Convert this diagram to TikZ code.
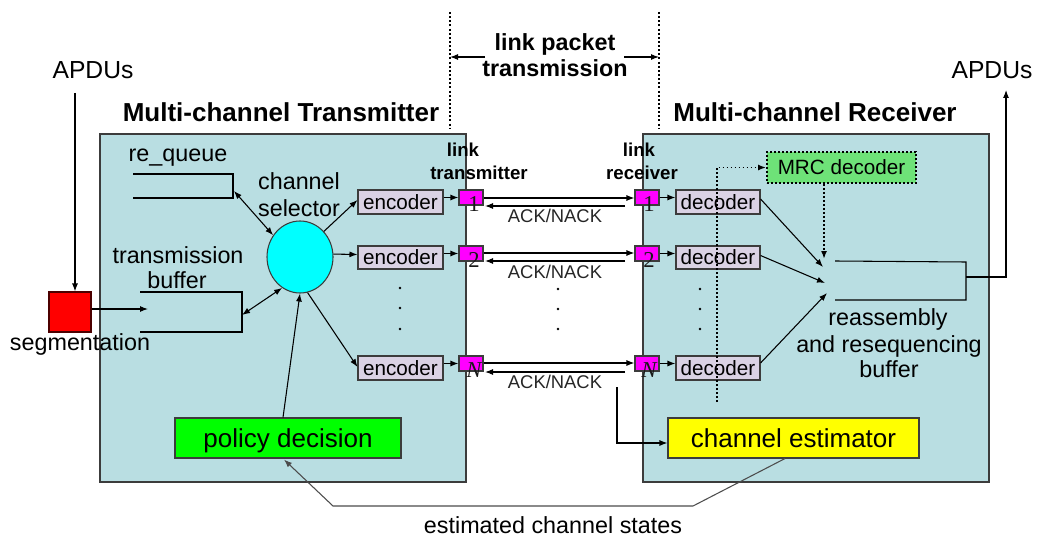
\documentclass[tikz,border=0pt]{standalone}
\usepackage{fontspec}
\setmainfont{Liberation Sans}
\newfontfamily\numfont{Liberation Serif}
\usetikzlibrary{arrows.meta,fit,calc,shapes.geometric}
\definecolor{panel}{RGB}{185,222,226}
\definecolor{edge}{RGB}{60,60,60}
\definecolor{codec}{RGB}{218,210,228}
\definecolor{mrcgreen}{RGB}{110,226,120}
\definecolor{selcyan}{RGB}{0,255,255}
\definecolor{portpink}{RGB}{255,0,255}
\definecolor{segred}{RGB}{255,0,0}
\definecolor{polgreen}{RGB}{0,255,0}
\definecolor{estyellow}{RGB}{255,255,0}
\newcommand\setfs[1]{\fontsize{#1}{#1}\selectfont}
\tikzset{
  x=0.75pt, y=-0.75pt,
  tip/.style={-{Latex[length=6pt,width=4.5pt]}},
  arr/.style={tip, line width=0.8pt},
  darr/.style={{Latex[length=6pt,width=4.5pt]}-{Latex[length=6pt,width=4.5pt]}, line width=0.8pt},
  dotline/.style={line width=1.4pt, dash pattern=on 1.3pt off 1.7pt},
  sepline/.style={line width=2pt, dash pattern=on 1.5pt off 1.6pt},
  panelbox/.style={draw=edge, fill=panel, line width=1pt, inner sep=0pt},
  codecbox/.style={draw=edge, fill=codec, line width=0.8pt, inner sep=0pt},
  port/.style={draw=edge, fill=portpink, line width=0.8pt, inner sep=0pt},
  bigbox/.style={draw=edge, line width=0.8pt, inner sep=0pt},
  inside/.style n args={2}{label={[inner sep=0pt, text depth=0pt, font=\setfs{#1}]center:#2}},
  txt/.style={anchor=base, inner sep=0pt, font=\setfs{17.5}},
  title/.style={anchor=base, inner sep=0pt, font=\bfseries\setfs{19.5}},
  small/.style={anchor=base, inner sep=0pt, font=\bfseries\setfs{14}},
  ack/.style={anchor=base, inner sep=0pt, font=\setfs{13.8}, text=black!85},
  num/.style={anchor=base, inner sep=0pt, font=\numfont\setfs{17}, text=black!90},
  dot/.style={fill=black},
}
\begin{document}
\begin{tikzpicture}
\useasboundingbox (0,0) rectangle (1037,538);

% transmitter and receiver panels
\node[panelbox, fit={(100,134)(466,482)}] (txp) {};
\node[panelbox, fit={(643,134)(989,482)}] (rxp) {};

% headings
\node[title] (txt-title) at (281,122) {Multi-channel Transmitter};
\node[title] (rxt-title) at (815,122) {Multi-channel Receiver};
\node[txt, font=\setfs{18.5}] (apin) at (93,79) {APDUs};
\node[txt, font=\setfs{18.5}] (apout) at (992,79) {APDUs};

% link packet transmission span
\draw[sepline] (450,12) -- (450,128);
\draw[sepline] (659,12) -- (659,128);
\node[title, font=\bfseries\setfs{17.5}] (lp1) at (555,51) {link packet};
\node[title, font=\bfseries\setfs{17.5}] (lp2) at (555,77) {transmission};
\coordinate (spanL) at (450,57);
\coordinate (spanR) at (659,57);
\draw[arr] (485,57) -- (spanL);
\draw[arr] (624,57) -- (spanR);

% segmentation
\node[draw=black!70!red, fill=segred, line width=0.8pt, inner sep=0pt, fit={(49,292)(91,332)}] (seg) {};
\node[txt] (segl) at (80,350) {segmentation};
\coordinate (apdrop) at (75,93);
\draw[arr] (apdrop) -- ($(seg.north)+(5,0)$);

% queues
\draw[line width=0.8pt] (133,174) -- (233,174) -- (233,198) -- (133,198);
\node[txt] (rql) at (178,162) {re\_queue};
\draw[line width=0.8pt] (140,292) -- (242,292) -- (242,332) -- (140,332);
\node[txt] (tb1) at (178,263) {transmission};
\node[txt] (tb2) at (177,288) {buffer};
\coordinate (rqport) at (234,191);
\coordinate (tbport) at (242,315);
\coordinate (tbin) at (148,309);
\draw[arr] (seg.east |- tbin) -- (tbin);

% channel selector
\node[ellipse, draw=edge, fill=selcyan, line width=0.8pt, minimum width=49.5pt, minimum height=54pt, inner sep=0pt] (sel) at (300,257) {};
\node[txt] (cs1) at (299,190) {channel};
\node[txt] (cs2) at (299,216) {selector};
\draw[darr] (rqport) -- (sel.141);
\draw[darr] (tbport) -- (sel.240);

% encoders
\node[codecbox, fit={(358,190)(443,214)}, inside={15.5}{encoder}] (e1) {};
\node[codecbox, fit={(358,246)(443,269)}, inside={15.5}{encoder}] (e2) {};
\node[codecbox, fit={(358,356)(443,380)}, inside={15.5}{encoder}] (eN) {};
\draw[arr] (sel.47) -- ($(e1.west)+(0,-2)$);
\draw[arr] (sel.5) -- ($(e2.west)+(0,-3)$);
\draw[arr] (sel.282) -- ($(eN.west)+(0,-1)$);
\foreach \yy in {288,308,329} \fill[dot] (400,\yy) circle (1pt);

% policy decision
\node[bigbox, fill=polgreen, fit={(175,418)(401,458)}, inside={19.5}{policy decision}] (pol) {};
\draw[arr] ($(pol.north)+(-5,0)$) -- (sel.south);

% link ports
\node[port, fit={(459,190)(483,205)}] (t1) {};
\node[port, fit={(459,246)(483,261)}] (t2) {};
\node[port, fit={(459,356)(483,371)}] (tN) {};
\node[port, fit={(635,190)(659,205)}] (r1) {};
\node[port, fit={(635,246)(659,261)}] (r2) {};
\node[port, fit={(635,356)(659,371)}] (rN) {};
\node[num] (n-t1) at (474,211) {1};
\node[num] (n-t2) at (474,267) {2};
\node[num] (n-tN) at (474,377) {\itshape N};
\node[num] (n-r1) at (649,211) {1};
\node[num] (n-r2) at (649,267) {2};
\node[num] (n-rN) at (649,377) {\itshape N};
\node[small] (lt1) at (463,157) {link};
\node[small] (lt2) at (479,180) {transmitter};
\node[small] (lr1) at (639,157) {link};
\node[small] (lr2) at (642,180) {receiver};

\draw[arr] (e1.east |- t1.west) -- (t1.west);
\draw[arr] (e2.east |- t2.west) -- (t2.west);
\draw[arr] (eN.east |- tN.west) -- (tN.west);

% forward links and ACK/NACK returns
\foreach \s/\fy/\by/\ly in {1/198/206/223, 2/253/261/278, N/363/372/388} {
  \draw[arr] (t\s.east |- 0,\fy) -- (r\s.west |- 0,\fy);
  \draw[arr] (625,\by) -- (485,\by);
  \node[ack] at (555,\ly) {ACK/NACK};
}
\foreach \yy in {289,309,329} \fill[dot] (558,\yy) circle (1pt);

% decoders
\node[codecbox, fit={(676,190)(760,214)}, inside={15.5}{decoder}] (d1) {};
\node[codecbox, fit={(676,246)(760,269)}, inside={15.5}{decoder}] (d2) {};
\node[codecbox, fit={(676,356)(760,380)}, inside={15.5}{decoder}] (dN) {};
\draw[arr] (r1.east) -- (d1.west |- r1.east);
\draw[arr] (r2.east) -- (d2.west |- r2.east);
\draw[arr] (rN.east) -- (dN.west |- rN.east);
\foreach \yy in {289,309,329} \fill[dot] (700,\yy) circle (1pt);

% MRC decoder and its dotted feeds
\node[codecbox, fill=mrcgreen, draw=black, dotline, fit={(767,152)(916,183)}, inside={15.5}{MRC decoder}] (mrc) {};
\coordinate (mrcfeed) at (717,402);
\draw[dotline, tip] (mrcfeed) |- (mrc.west);
\coordinate (rbin0) at (824,259);
\draw[dotline, tip] ($(mrc.south)+(-17.5,0)$) -- (rbin0);

% reassembly and resequencing buffer
\draw[line width=0.8pt] (835,261) -- (966,262) -- (966,300) -- (835,300);
\coordinate (rbin1) at (823,267);
\coordinate (rbin2) at (825,283);
\coordinate (rbin3) at (827,293);
\draw[arr] ($(d1.east)+(0,-3)$) -- (rbin1);
\draw[arr] ($(d2.east)+(0,-2)$) -- (rbin2);
\draw[arr] ($(dN.east)+(0,-5)$) -- (rbin3);
\node[txt] (ra1) at (888,325) {reassembly};
\node[txt] (ra2) at (889,352) {and resequencing};
\node[txt] (ra3) at (889,377) {buffer};
\coordinate (rbout) at (966,277);
\coordinate (outtip) at (1006,90);
\draw[arr] (rbout) -| (outtip);

% channel estimator and feedback
\node[bigbox, fill=estyellow, fit={(668,418)(919,458)}, inside={19.5}{channel estimator}] (est) {};
\coordinate (tap) at (617,387);
\draw[arr] (tap) |- ($(est.west)+(0,5)$);
\coordinate (fb1) at (693,506);
\coordinate (fb2) at (333,506);
\draw[arr, draw=black!70] ($(est.south)+(-8.5,0)$) -- (fb1) -- (fb2) -- ($(pol.south)+(-4,1)$);
\node[txt] (ecs) at (553,533) {estimated channel states};
\end{tikzpicture}
\end{document}
